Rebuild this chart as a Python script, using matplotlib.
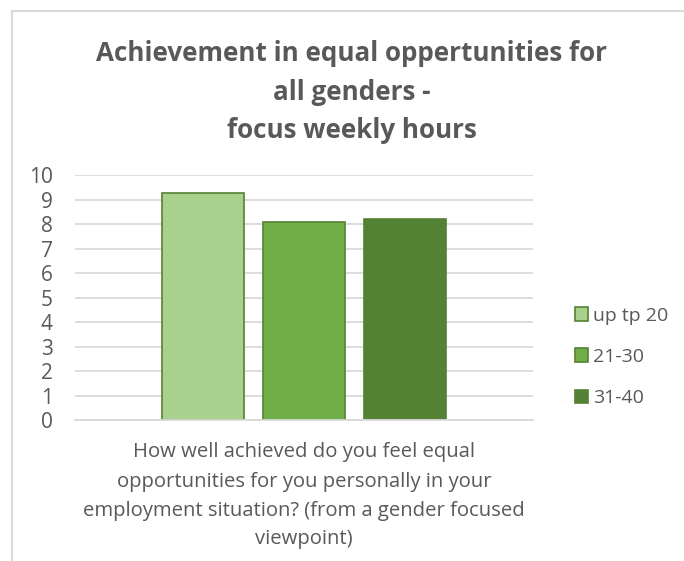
import matplotlib
matplotlib.use("Agg")
import matplotlib.pyplot as plt
from matplotlib.patches import Rectangle, Patch

# Data
question_lines = ["How well achieved do you feel equal",
                  "opportunities for you personally in your",
                  "employment situation? (from a gender focused",
                  "viewpoint)"]
series = ["up tp 20", "21-30", "31-40"]
values = [9.27, 8.11, 8.22]
colors = ["#A9D18E", "#70AD47", "#548235"]
edge = "#548235"
yticks = list(range(0, 11))
title_lines = ["Achievement in equal oppertunities for",
               "all genders -",
               "focus weekly hours"]

W, H = 684, 561
fig = plt.figure(figsize=(W / 100, H / 100), dpi=100)
fig.patch.set_facecolor("white")
font = "Open Sans"
text_color = "#595959"

# chart frame
fig.add_artist(Rectangle((12 / W, -0.05), 1.2, 1 - 11 / H + 0.05,
                         transform=fig.transFigure, fill=False,
                         edgecolor="#D9D9D9", linewidth=1.5))

left, right, top, bottom = 75, 533, 175.5, 420
ax = fig.add_axes([left / W, 1 - bottom / H, (right - left) / W, (bottom - top) / H])

step = 0.2205
width = 0.177
for i, (name, v, c) in enumerate(zip(series, values, colors)):
    x = (i - 1) * step
    ax.bar(x, v, width=width, color=c, edgecolor=edge, linewidth=1.2,
           label=name, zorder=3)

ax.set_xlim(-0.5, 0.5)
ax.set_ylim(0, 10)
ax.set_yticks(yticks)
ax.set_yticklabels([str(t) for t in yticks], fontsize=15, color=text_color,
                   fontfamily=font)
ax.set_xticks([])
ax.tick_params(axis="y", length=0, pad=16)
ax.grid(axis="y", color="#D9D9D9", linewidth=1.3, zorder=0)
for s in ["left", "right", "top"]:
    ax.spines[s].set_visible(False)
ax.spines["bottom"].set_color("#D9D9D9")
ax.spines["bottom"].set_linewidth(1.3)
ax.spines["bottom"].set_zorder(4)

# category text under the axis, one centred line at a time
for line, base in zip(question_lines, [457, 487, 516, 544]):
    fig.text(304 / W, 1 - base / H, line, ha="center", va="baseline",
             fontsize=14.6, color=text_color, fontfamily=font)

for line, base in zip(title_lines, [61, 100, 138]):
    fig.text(352 / W, 1 - base / H, line, ha="center", va="baseline",
             fontsize=18.7, fontweight="bold", color=text_color,
             fontfamily=font)

handles = [Patch(facecolor=c, edgecolor=edge, linewidth=1.2) for c in colors]
fig.legend(handles, series, loc="center left",
           bbox_to_anchor=(557 / W, 1 - 357 / H), frameon=False,
           prop={"family": font, "size": 14}, labelcolor=text_color,
           handlelength=0.7, handleheight=0.7, handletextpad=0.25,
           labelspacing=1.2)

fig.savefig("out.png", dpi=100, facecolor="white")
